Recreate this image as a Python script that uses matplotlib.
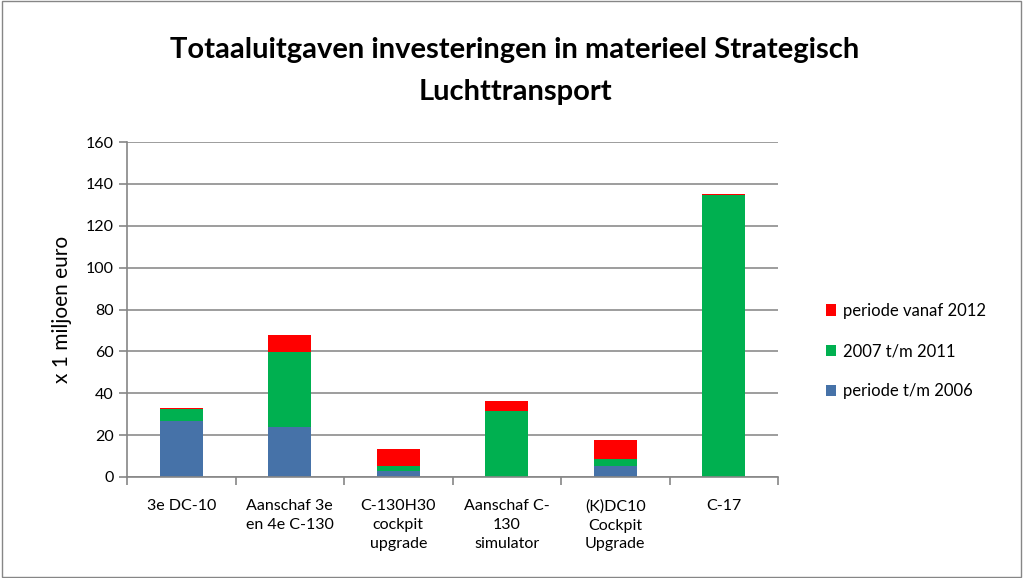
import matplotlib.pyplot as plt
import numpy as np

categories = ['3e DC-10', 'Aanschaf 3e\nen 4e C-130', 'C-130H30\ncockpit\nupgrade',
              'Aanschaf C-\n130\nsimulator', '(K)DC10\nCockpit\nUpgrade', 'C-17']
tm_2006 = [26.6, 23.7, 3.0, 0.0, 5.4, 0.0]
p_2007_2011 = [6.0, 36.0, 2.4, 31.4, 3.1, 134.5]
vanaf_2012 = [0.4, 8.1, 7.8, 4.7, 9.3, 0.8]

plt.rcParams['font.family'] = ['Lato', 'DejaVu Sans']

fig = plt.figure(figsize=(10.23, 5.78), dpi=100)
ax = fig.add_axes([127 / 1023, 1 - 477 / 578, 651 / 1023, 335 / 578])

x = np.arange(len(categories))
w = 0.4
b1 = ax.bar(x, tm_2006, w, color='#4672A8', label='periode t/m 2006')
b2 = ax.bar(x, p_2007_2011, w, bottom=tm_2006, color='#00B050', label='2007 t/m 2011')
bottom3 = np.array(tm_2006) + np.array(p_2007_2011)
b3 = ax.bar(x, vanaf_2012, w, bottom=bottom3, color='#FF0000', label='periode vanaf 2012')

ax.set_xlim(-0.5, len(categories) - 0.5)
ax.set_ylim(0, 160)
ax.set_yticks(range(0, 161, 20))
ax.yaxis.grid(True, color='#8C8C8C', linewidth=1.2)
ax.set_axisbelow(True)
for s in ['top', 'right']:
    ax.spines[s].set_visible(False)
for s in ['left', 'bottom']:
    ax.spines[s].set_color('#868686')
    ax.spines[s].set_linewidth(1.2)

# kategorie-labels mittig, ticks zwischen den balken
ax.set_xticks(np.arange(-0.5, len(categories), 1))
ax.set_xticklabels([])
ax.set_xticks(x, minor=True)
ax.set_xticklabels(categories, minor=True, fontsize=11.5, linespacing=1.45)
ax.tick_params(axis='x', which='minor', length=0, pad=16)
ax.tick_params(axis='x', which='major', length=6, color='#868686', width=1.2)
ax.tick_params(axis='y', labelsize=11.5, length=6, color='#868686', width=1.2)

ax.set_ylabel('x 1 miljoen euro', fontsize=15, labelpad=10)

fig.suptitle('Totaaluitgaven investeringen in materieel Strategisch\nLuchttransport',
             fontsize=21, fontweight='bold', x=515 / 1023, y=1 - 37 / 578, va='top',
             linespacing=1.75)

ax.legend(handles=[b3, b2, b1], loc='center left', bbox_to_anchor=(1.05, 0.376),
          frameon=False, fontsize=12, handlelength=0.65, handleheight=0.65,
          labelspacing=1.45, handletextpad=0.4)

border = plt.Rectangle((0.002, 0.002), 0.996, 0.996, transform=fig.transFigure,
                       fill=False, edgecolor='#868686', linewidth=1)
fig.patches.append(border)

fig.savefig('out.png', dpi=100)
